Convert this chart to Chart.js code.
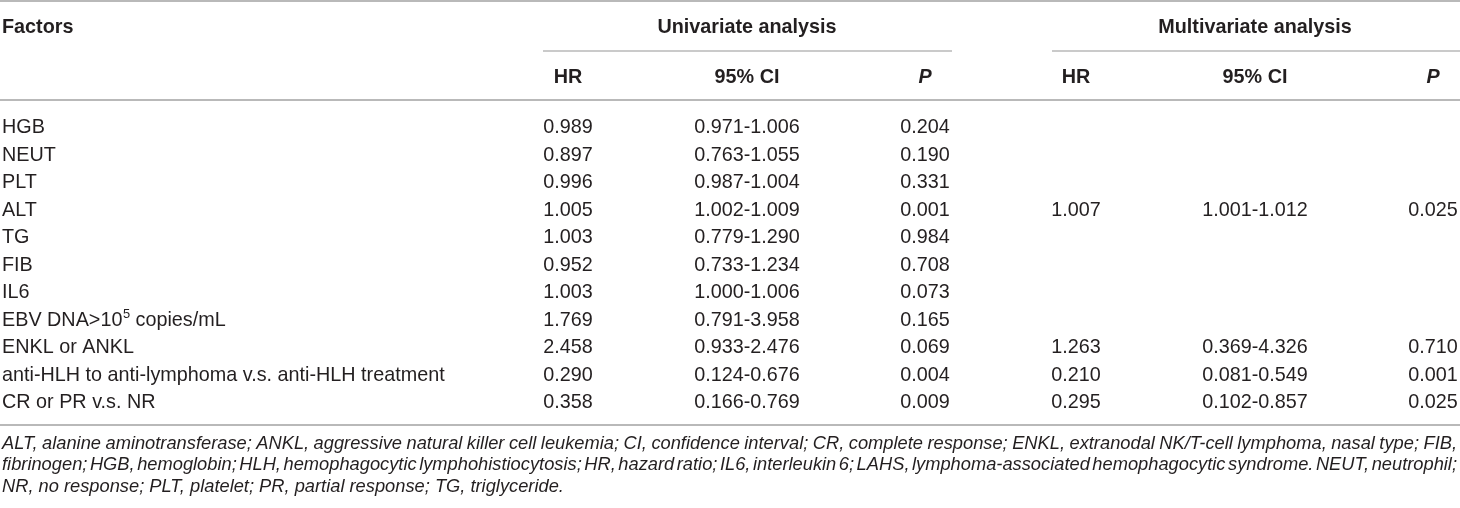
<!DOCTYPE html>
<html>
<head>
<meta charset="utf-8">
<script src="https://cdn.jsdelivr.net/npm/chart.js@4.4.1/dist/chart.umd.min.js"></script>
<style>
  html, body { margin: 0; padding: 0; background: #fff; }
  #wrap { width: 1460px; height: 508px; position: relative; }
</style>
</head>
<body>
<div id="wrap"><canvas id="c"></canvas></div>
<script>
// ---- data ----
const factors = [
  'HGB', 'NEUT', 'PLT', 'ALT', 'TG', 'FIB', 'IL6',
  'EBV DNA>10^5 copies/mL', 'ENKL or ANKL',
  'anti-HLH to anti-lymphoma v.s. anti-HLH treatment', 'CR or PR v.s. NR'
];
const uniHR = ['0.989','0.897','0.996','1.005','1.003','0.952','1.003','1.769','2.458','0.290','0.358'];
const uniCI = ['0.971-1.006','0.763-1.055','0.987-1.004','1.002-1.009','0.779-1.290','0.733-1.234','1.000-1.006','0.791-3.958','0.933-2.476','0.124-0.676','0.166-0.769'];
const uniP  = ['0.204','0.190','0.331','0.001','0.984','0.708','0.073','0.165','0.069','0.004','0.009'];
const multiHR = [null,null,null,'1.007',null,null,null,null,'1.263','0.210','0.295'];
const multiCI = [null,null,null,'1.001-1.012',null,null,null,null,'0.369-4.326','0.081-0.549','0.102-0.857'];
const multiP  = [null,null,null,'0.025',null,null,null,null,'0.710','0.001','0.025'];
const groupHeaders = ['Univariate analysis', 'Multivariate analysis'];
const columnHeaders = ['HR', '95% CI', 'P', 'HR', '95% CI', 'P'];
const firstHeader = 'Factors';
const footnoteLines = [
  'ALT, alanine aminotransferase; ANKL, aggressive natural killer cell leukemia; CI, confidence interval; CR, complete response; ENKL, extranodal NK/T-cell lymphoma, nasal type; FIB,',
  'fibrinogen; HGB, hemoglobin; HLH, hemophagocytic lymphohistiocytosis; HR, hazard ratio; IL6, interleukin 6; LAHS, lymphoma-associated hemophagocytic syndrome. NEUT, neutrophil;',
  'NR, no response; PLT, platelet; PR, partial response; TG, triglyceride.'
];

// ---- layout (positions / styles, not data) ----
const columns = [uniHR, uniCI, uniP, multiHR, multiCI, multiP];
const colX = [568, 747, 925, 1076, 1255, 1433];
const FONT = '"Liberation Sans", Arial, Helvetica, sans-serif';
const TEXT = '#231f20';
const RULE = '#b9b9b9';
const BODY_SIZE = 19.8;
const NOTE_SIZE = 18.3;

const datasets = columns.map((col, c) => ({
  label: columnHeaders[c],
  data: col.map((v, i) => v == null ? null : { x: colX[c], y: i }).filter(p => p),
  pointRadius: 0,
  pointHoverRadius: 0,
  showLine: false
}));

function drawFactor(ctx, text, x, baseline) {
  const m = text.match(/^(.*)\^(\d+)(.*)$/);
  ctx.font = BODY_SIZE + 'px ' + FONT;
  ctx.textAlign = 'left';
  if (!m) { ctx.fillText(text, x, baseline); return; }
  ctx.fillText(m[1], x, baseline);
  let w = ctx.measureText(m[1]).width;
  ctx.font = (BODY_SIZE * 0.65) + 'px ' + FONT;
  ctx.fillText(m[2], x + w + 0.5, baseline - BODY_SIZE * 0.36);
  w += ctx.measureText(m[2]).width + 0.5;
  ctx.font = BODY_SIZE + 'px ' + FONT;
  ctx.fillText(m[3], x + w, baseline);
}

function justify(ctx, text, x0, x1, baseline) {
  const words = text.split(' ');
  const widths = words.map(w => ctx.measureText(w).width);
  const total = widths.reduce((a, b) => a + b, 0);
  const gap = Math.max(2, (x1 - x0 - total) / (words.length - 1));
  let x = x0;
  words.forEach((w, i) => { ctx.fillText(w, x, baseline); x += widths[i] + gap; });
}

function hline(ctx, x0, x1, y, w, color) {
  ctx.save();
  ctx.strokeStyle = color;
  ctx.lineWidth = w;
  ctx.beginPath();
  ctx.moveTo(x0, y);
  ctx.lineTo(x1, y);
  ctx.stroke();
  ctx.restore();
}

const tablePlugin = {
  id: 'tablePlugin',
  afterDatasetsDraw(chart) {
    const ctx = chart.ctx;
    const xs = chart.scales.x, ys = chart.scales.y;
    const W = chart.width;
    ctx.save();
    ctx.fillStyle = TEXT;
    ctx.textBaseline = 'alphabetic';
    const capOff = BODY_SIZE * 0.358;

    // rules
    hline(ctx, 0, W, 1, 2, RULE);
    hline(ctx, xs.getPixelForValue(543), xs.getPixelForValue(952), 51, 1.6, RULE);
    hline(ctx, xs.getPixelForValue(1052), W, 51, 1.6, RULE);
    hline(ctx, 0, W, 100, 2, RULE);
    hline(ctx, 0, W, 425, 2, RULE);

    // headers
    ctx.font = 'bold ' + BODY_SIZE + 'px ' + FONT;
    ctx.textAlign = 'left';
    ctx.fillText(firstHeader, 2, 33.3);
    ctx.textAlign = 'center';
    ctx.fillText(groupHeaders[0], xs.getPixelForValue(colX[1]), 33.3);
    ctx.fillText(groupHeaders[1], xs.getPixelForValue(colX[4]), 33.3);
    columnHeaders.forEach((h, c) => {
      ctx.font = (h === 'P' ? 'italic bold ' : 'bold ') + BODY_SIZE + 'px ' + FONT;
      ctx.fillText(h, xs.getPixelForValue(colX[c]), 83.3);
    });

    // factor labels
    factors.forEach((f, i) => {
      drawFactor(ctx, f, 2, ys.getPixelForValue(i) + capOff);
    });

    // cells, at the dataset element positions
    ctx.font = BODY_SIZE + 'px ' + FONT;
    ctx.textAlign = 'center';
    chart.data.datasets.forEach((ds, c) => {
      const meta = chart.getDatasetMeta(c);
      meta.data.forEach((el, j) => {
        const row = ds.data[j].y;
        ctx.fillText(columns[c][row], el.x, el.y + capOff);
      });
    });

    // footnote
    ctx.font = 'italic ' + NOTE_SIZE + 'px ' + FONT;
    ctx.textAlign = 'left';
    justify(ctx, footnoteLines[0], 2, 1457, 449);
    justify(ctx, footnoteLines[1], 2, 1457, 470);
    ctx.fillText(footnoteLines[2], 2, 492);
    ctx.restore();
  }
};

new Chart(document.getElementById('c'), {
  type: 'scatter',
  data: { datasets },
  options: {
    responsive: true,
    maintainAspectRatio: false,
    animation: false,
    events: [],
    layout: { padding: { top: 112.25, bottom: 93.25, left: 0, right: 0 } },
    plugins: { legend: { display: false }, tooltip: { enabled: false } },
    scales: {
      x: { type: 'linear', min: 0, max: 1460, display: false },
      y: { type: 'linear', reverse: true, min: -0.5, max: 10.5, display: false }
    }
  },
  plugins: [tablePlugin]
});
</script>
</body>
</html>
